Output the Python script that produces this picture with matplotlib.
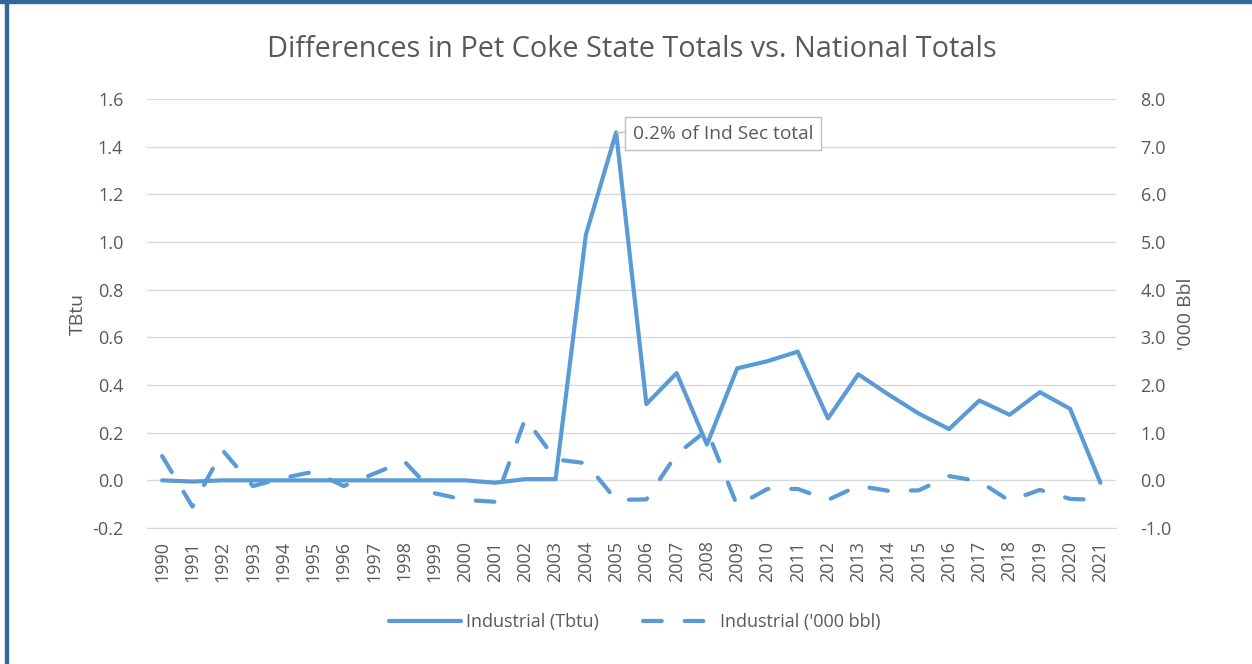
import matplotlib
matplotlib.use("Agg")
import matplotlib.pyplot as plt
from matplotlib.ticker import FormatStrFormatter
from matplotlib.patches import Rectangle

years = [str(y) for y in range(1990, 2022)]
industrial_tbtu = [0.0, -0.005, 0.0, 0.0, 0.0, 0.0, 0.0, 0.0, 0.0, 0.0, 0.0, -0.01,
                   0.005, 0.005, 1.03, 1.46, 0.32, 0.45, 0.15, 0.47, 0.50, 0.54,
                   0.26, 0.445, 0.36, 0.28, 0.215, 0.335, 0.275, 0.37, 0.30, -0.01]
industrial_kbbl = [0.51, -0.55, 0.63, -0.12, 0.05, 0.18, -0.12, 0.14, 0.40, -0.27,
                   -0.41, -0.45, 1.30, 0.44, 0.36, -0.41, -0.40, 0.55, 1.05, -0.53,
                   -0.18, -0.18, -0.41, -0.115, -0.22, -0.21, 0.09, -0.02, -0.43,
                   -0.20, -0.39, -0.41]

title = "Differences in Pet Coke State Totals vs. National Totals"
left_label = "TBtu"
right_label = "'000 Bbl"
annot_text = "0.2% of Ind Sec total"

BLUE = "#5B9BD5"
TXT = "#595959"
GRID = "#D9D9D9"
FONT = "Open Sans"

plt.rcParams['font.family'] = [FONT, 'DejaVu Sans']

fig = plt.figure(figsize=(12.52, 6.64), dpi=100)
ax = fig.add_axes([0.1174, 0.2048, 0.891 - 0.1174, 0.8509 - 0.2048])
ax2 = ax.twinx()

x = list(range(len(years)))
l1, = ax.plot(x, industrial_tbtu, color=BLUE, lw=3.0, solid_joinstyle='round',
              solid_capstyle='round', label="Industrial (Tbtu)", zorder=3)
l2, = ax2.plot(x, industrial_kbbl, color=BLUE, lw=3.0, dashes=(4.5, 5.5),
               dash_capstyle='round', dash_joinstyle='round',
               label="Industrial ('000 bbl)", zorder=3)

ax.set_xlim(-0.5, len(years) - 0.5)
ax.set_ylim(-0.2, 1.6)
ax.set_yticks([i * 0.2 - 0.2 for i in range(10)])
ax.yaxis.set_major_formatter(FormatStrFormatter('%.1f'))
ax2.set_ylim(-1.0, 8.0)
ax2.set_yticks(list(range(-1, 9)))
ax2.yaxis.set_major_formatter(FormatStrFormatter('%.1f'))

ax.set_xticks(x)
ax.set_xticklabels(years, rotation=90)
ax.grid(axis='y', color=GRID, lw=1.0)
ax.set_axisbelow(True)

for a in (ax, ax2):
    for s in a.spines.values():
        s.set_visible(False)
    a.tick_params(length=0, colors=TXT, labelsize=13)
ax.spines['bottom'].set_visible(True)
ax.spines['bottom'].set_color(GRID)
ax.tick_params(axis='y', pad=17)
ax2.tick_params(axis='y', pad=18)
ax.tick_params(axis='x', pad=9)

ax.set_ylabel(left_label, color=TXT, fontsize=14, labelpad=4)
ax2.set_ylabel(right_label, color=TXT, fontsize=14, rotation=90, labelpad=4)

fig.text(0.505, 0.925, title, ha='center', va='center', color=TXT, fontsize=20.8)

ax.annotate(annot_text, xy=(15, 1.46), xytext=(15.55, 1.455),
            textcoords='data', color=TXT, fontsize=13.8, va='center', ha='left',
            bbox=dict(boxstyle='square,pad=0.4', fc='white', ec='#BFBFBF', lw=1),
            arrowprops=dict(arrowstyle='-', color='#BFBFBF', lw=1,
                            shrinkA=0, shrinkB=0), zorder=5)

leg = fig.legend(handles=[l1, l2], loc='center', bbox_to_anchor=(0.507, 0.063),
                 ncol=2, frameon=False, fontsize=13, handlelength=4.0,
                 columnspacing=2.4, handletextpad=0.3)
for t in leg.get_texts():
    t.set_color(TXT)

# frame edges (top and left)
fig.patches.append(Rectangle((0, 1 - 3 / 664), 1, 3 / 664, transform=fig.transFigure,
                             color="#336699", zorder=10))
fig.patches.append(Rectangle((5 / 1252, 0), 3 / 1252, 1, transform=fig.transFigure,
                             color="#336699", zorder=10))

fig.savefig("out.png", dpi=100, facecolor='white')
